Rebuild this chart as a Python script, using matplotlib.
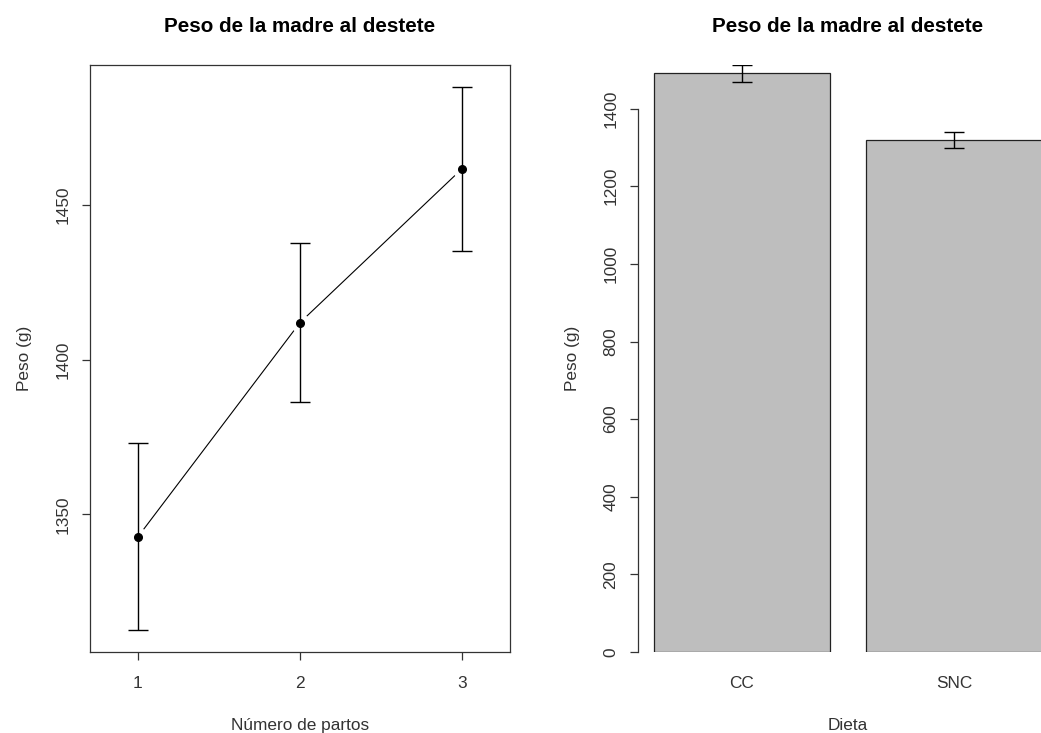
import matplotlib
matplotlib.use("Agg")
from matplotlib import pyplot as plt

# left panel: peso de la madre by numero de partos
partos = [1, 2, 3]
peso_media = [1342.8, 1412.0, 1461.7]
peso_se = [30.2, 25.8, 26.5]

# right panel: peso by dieta
dietas = ["CC", "SNC"]
dieta_media = [1491.0, 1318.5]
dieta_se = [21.5, 20.6]

titulo = "Peso de la madre al destete"

plt.rcParams["font.family"] = ["Liberation Sans", "DejaVu Sans"]
fs = 12.4
W, H = 1041, 733
fig = plt.figure(figsize=(W / 100, H / 100), dpi=100)

# --- left panel ---
ax1 = fig.add_axes([90 / W, (H - 652) / H, 420 / W, 587 / H])
ax1.plot(partos, peso_media, color="black", lw=0.8, zorder=1)
ax1.plot(partos, peso_media, "o", ms=14, mfc="white", mec="none", zorder=2)
ax1.errorbar(partos, peso_media, yerr=peso_se, fmt="none", ecolor="black",
             elinewidth=1, capsize=7.5, capthick=1, zorder=3)
ax1.plot(partos, peso_media, "o", ms=5.5, color="black", zorder=4)
lo = min(m - s for m, s in zip(peso_media, peso_se))
hi = max(m + s for m, s in zip(peso_media, peso_se))
pad = (hi - lo) * 0.04
ax1.set_ylim(lo - pad, hi + pad)
ax1.set_xlim(0.704, 3.296)
ax1.set_xticks(partos)
ax1.set_yticks([1350, 1400, 1450])
ax1.tick_params(length=6, width=0.9, labelsize=fs, colors="#333333", pad=11)
ax1.tick_params(axis="y", pad=8)
for lab in ax1.get_yticklabels():
    lab.set_rotation(90)
    lab.set_va("center")
for sp in ax1.spines.values():
    sp.set_linewidth(0.9)
    sp.set_color("#333333")
ax1.set_xlabel("Número de partos", fontsize=fs, color="#333333", labelpad=20)
ax1.set_ylabel("Peso (g)", fontsize=fs, color="#333333", labelpad=17)
ax1.set_title(titulo, fontsize=14.9, fontweight="bold", pad=24)

# --- right panel ---
ax2 = fig.add_axes([638 / W, (H - 652) / H, 420 / W, 587 / H])
pos = [0.7, 1.9]
ax2.bar(pos, dieta_media, width=1.0, color="#bebebe", edgecolor="#222222", lw=0.9)
ax2.errorbar(pos, dieta_media, yerr=dieta_se, fmt="none", ecolor="black",
             elinewidth=1, capsize=7.5, capthick=1)
ax2.set_xlim(0.112, 2.488)
ax2.set_ylim(0, max(m + s for m, s in zip(dieta_media, dieta_se)))
ax2.set_xticks(pos)
ax2.set_xticklabels(dietas)
ax2.set_yticks(range(0, 1401, 200))
ax2.tick_params(axis="x", length=0, labelsize=fs, colors="#333333", pad=17)
ax2.tick_params(axis="y", length=6, width=0.9, labelsize=fs, colors="#333333", pad=8)
for lab in ax2.get_yticklabels():
    lab.set_rotation(90)
    lab.set_va("center")
for s in ["top", "right", "bottom"]:
    ax2.spines[s].set_visible(False)
ax2.spines["left"].set_bounds(0, 1400)
ax2.spines["left"].set_linewidth(0.9)
ax2.spines["left"].set_color("#333333")
ax2.set_xlabel("Dieta", fontsize=fs, color="#333333", labelpad=20)
ax2.set_ylabel("Peso (g)", fontsize=fs, color="#333333", labelpad=17)
ax2.set_title(titulo, fontsize=14.9, fontweight="bold", pad=24)

fig.savefig("out.png", dpi=100)
